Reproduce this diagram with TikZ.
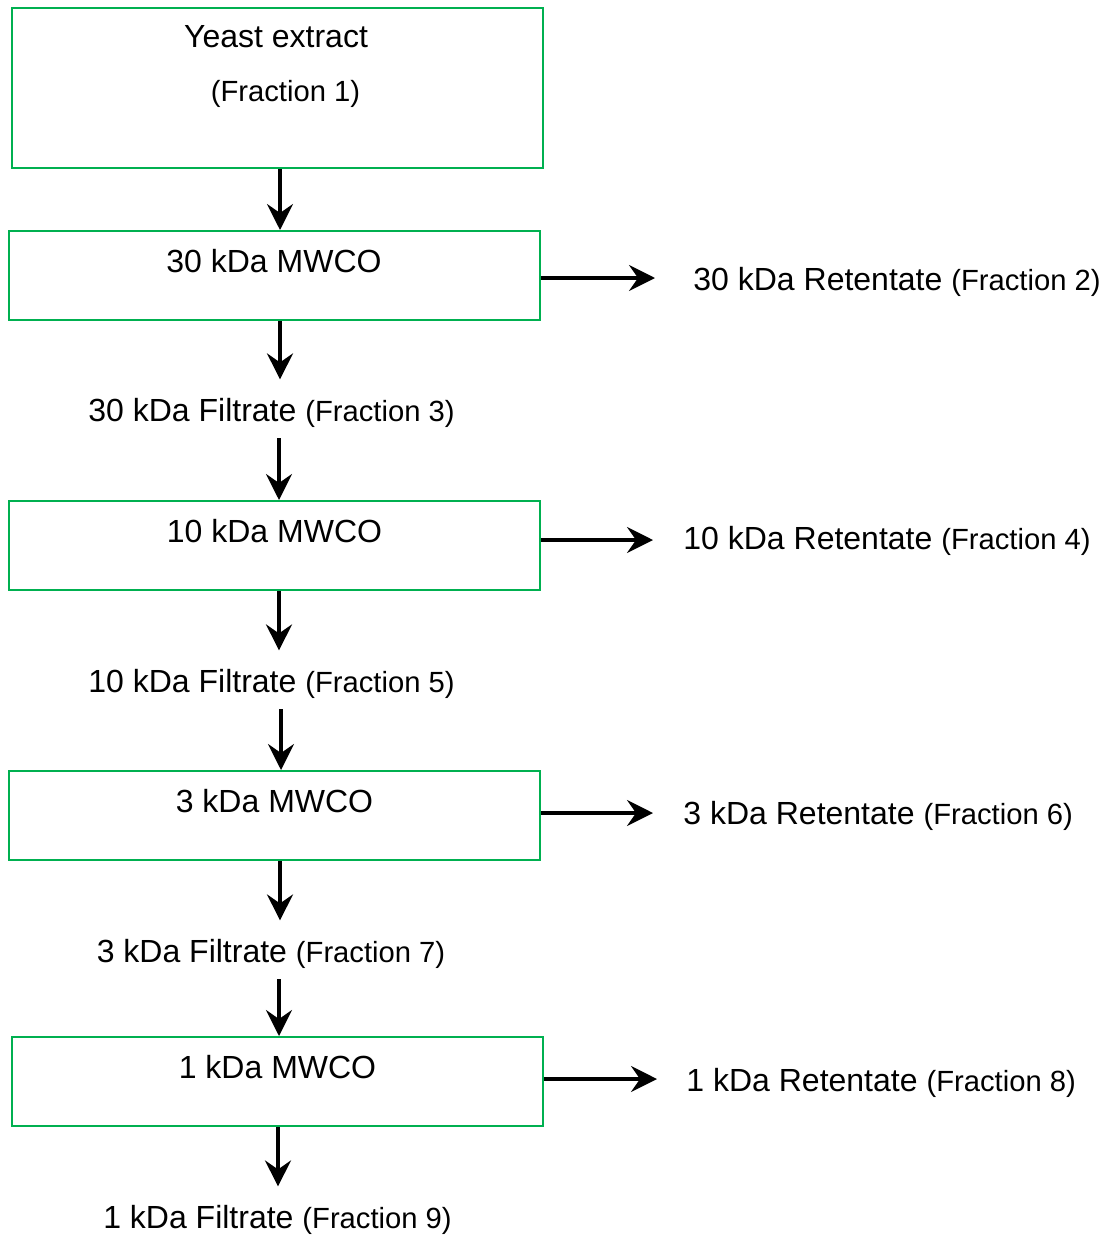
\documentclass[tikz,border=0pt]{standalone}
\usepackage{fontspec}
\setmainfont{Liberation Sans}
\usetikzlibrary{arrows.meta}
\usetikzlibrary{calc}

\definecolor{boxgreen}{RGB}{0,176,80}
\newcommand{\frc}[1]{{\fontsize{14.6pt}{17pt}\selectfont (Fraction #1)}}

\begin{document}
\begin{tikzpicture}[x=0.5pt,y=-0.5pt,font=\fontsize{16pt}{19pt}\selectfont,
  box/.style={draw=boxgreen,line width=1pt,minimum width=265.5pt,minimum height=44.5pt,inner sep=0pt},
  lbl/.style={inner sep=0pt,anchor=base},
  side/.style={inner sep=0pt,anchor=base west},
  arr/.style={line width=1.6pt,-{Stealth[length=13pt,width=13pt,inset=4.5pt]}}]
\useasboundingbox (0,0) rectangle (1111,1236);

% filter boxes
\node[box,minimum height=80pt] (b1) at (277.5, 88) {};
\node[box] (b2) at (274.5, 275.5) {};
\node[box] (b3) at (274.5, 545.5) {};
\node[box] (b4) at (274.5, 815.5) {};
\node[box] (b5) at (277.5, 1081.5) {};

\node[lbl] (t1) at (276, 48) {Yeast extract};
\node[lbl] (t1b) at (285.5, 102) {\frc{1}};
\node[lbl] (t2) at (274, 272) {30 kDa MWCO};
\node[lbl] (t3) at (274.5, 542) {10 kDa MWCO};
\node[lbl] (t4) at (274.5, 812) {3 kDa MWCO};
\node[lbl] (t5) at (277.5, 1078) {1 kDa MWCO};

% filtrates
\node[lbl] (f3) at (271.5, 421) {30 kDa Filtrate \frc{3}};
\node[lbl] (f5) at (271.5, 692) {10 kDa Filtrate \frc{5}};
\node[lbl] (f7) at (271, 962) {3 kDa Filtrate \frc{7}};
\node[lbl] (f9) at (277.5, 1228) {1 kDa Filtrate \frc{9}};

% retentates
\node[side] (r2) at (693, 290) {30 kDa Retentate \frc{2}};
\node[side] (r4) at (683, 549) {10 kDa Retentate \frc{4}};
\node[side] (r6) at (683, 824) {3 kDa Retentate \frc{6}};
\node[side] (r8) at (686, 1091) {1 kDa Retentate \frc{8}};

\draw[arr] ($(b1.south)+(2.5,0)$) -- ($(b2.north)+(5.5,0)$);
\draw[arr,shorten >=9pt] ($(b2.south)+(5.5,0)$) -- ($(b2.south |- f3.north)+(5.5,0)$);
\draw[arr,shorten <=5.5pt] ($(f3.south)+(7.5,0)$) -- ($(f3.south |- b3.north)+(7.5,0)$);
\draw[arr,shorten >=9pt] ($(b3.south)+(4.5,0)$) -- ($(b3.south |- f5.north)+(4.5,0)$);
\draw[arr,shorten <=5.5pt] ($(f5.south)+(9.5,0)$) -- ($(f5.south |- b4.north)+(9.5,0)$);
\draw[arr,shorten >=9pt] ($(b4.south)+(5.5,0)$) -- ($(b4.south |- f7.north)+(5.5,0)$);
\draw[arr,shorten <=5.5pt] ($(f7.south)+(8,0)$) -- ($(f7.south |- b5.north)+(8,0)$);
\draw[arr,shorten >=9pt] ($(b5.south)+(0.5,0)$) -- ($(b5.south |- f9.north)+(0.5,0)$);

\draw[arr,shorten >=19pt] ($(b2.east)+(0,2.5)$) -- ($(b2.east -| r2.west)+(0,2.5)$);
\draw[arr,shorten >=15pt] ($(b3.east)+(0,-5.5)$) -- ($(b3.east -| r4.west)+(0,-5.5)$);
\draw[arr,shorten >=15pt] ($(b4.east)+(0,-2.5)$) -- ($(b4.east -| r6.west)+(0,-2.5)$);
\draw[arr,shorten >=14.5pt] ($(b5.east)+(0,-2.5)$) -- ($(b5.east -| r8.west)+(0,-2.5)$);
\end{tikzpicture}
\end{document}
